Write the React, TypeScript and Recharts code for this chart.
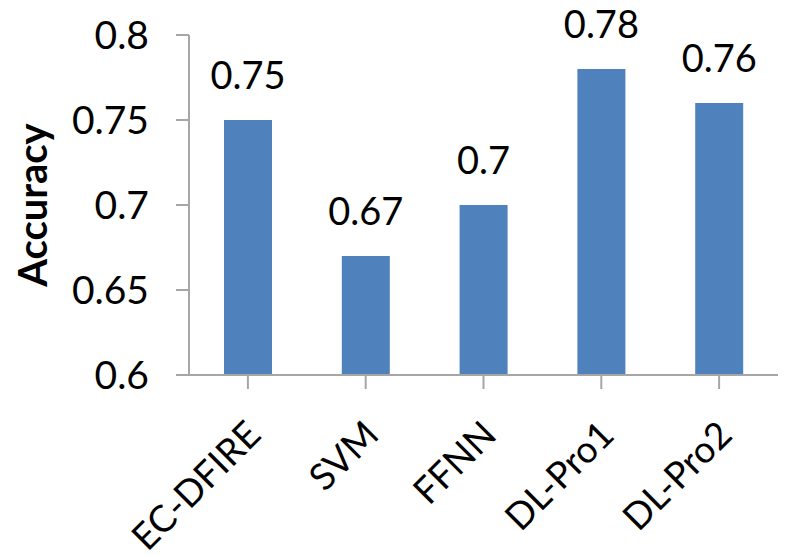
import React from 'react';
import { BarChart, Bar, XAxis, YAxis, LabelList, Label } from 'recharts';

const methods = ['EC-DFIRE', 'SVM', 'FFNN', 'DL-Pro1', 'DL-Pro2'];
const accuracy = [0.75, 0.67, 0.7, 0.78, 0.76];
const yTicks = [0.6, 0.65, 0.7, 0.75, 0.8];

const data = methods.map((name, i) => ({ name, accuracy: accuracy[i] }));

const FONT = 'Lato, "Open Sans", sans-serif';
const AXIS_GRAY = '#A6A6A6';

// rotated category label, anchored at its end just below the tick
const CategoryTick = (props: any) => {
  const { x, y, payload } = props;
  return (
    <text
      transform={`translate(${x + 15},${y + 48}) rotate(-45)`}
      textAnchor="end"
      fontFamily={FONT}
      fontSize={37}
      fill="#000"
    >
      {payload.value}
    </text>
  );
};

const YTitle = (props: any) => {
  const { viewBox } = props;
  const cx = 47;
  const cy = viewBox.y + viewBox.height / 2;
  return (
    <text
      transform={`translate(${cx},${cy}) rotate(-90)`}
      textAnchor="middle"
      fontFamily={FONT}
      fontWeight="bold"
      fontSize={40}
      fill="#000"
    >
      Accuracy
    </text>
  );
};

const App = () => {
  return (
    <div style={{ position: 'absolute', left: 0, top: 0, width: 788, height: 557, background: '#fff' }}>
      <BarChart
        width={788}
        height={557}
        data={data}
        margin={{ top: 35, right: 10, left: 0, bottom: 0 }}
      >
        <XAxis
          dataKey="name"
          height={182}
          interval={0}
          tickSize={14}
          tickMargin={0}
          axisLine={{ stroke: AXIS_GRAY, strokeWidth: 2 }}
          tickLine={{ stroke: AXIS_GRAY, strokeWidth: 2 }}
          tick={<CategoryTick />}
        />
        <YAxis
          width={189}
          domain={[0.6, 0.8]}
          ticks={yTicks}
          allowDataOverflow
          tickSize={13}
          tickMargin={27}
          axisLine={{ stroke: AXIS_GRAY, strokeWidth: 2 }}
          tickLine={{ stroke: AXIS_GRAY, strokeWidth: 2 }}
          tick={{ fill: '#000', fontSize: 39, fontFamily: FONT }}
          tickFormatter={(v: number) => String(v)}
        >
          <Label content={<YTitle />} />
        </YAxis>
        <Bar dataKey="accuracy" fill="#4F81BD" barSize={48} isAnimationActive={false}>
          <LabelList
            dataKey="accuracy"
            position="top"
            offset={31}
            fill="#000"
            fontSize={38}
            fontFamily={FONT}
          />
        </Bar>
      </BarChart>
    </div>
  );
};

export default App;
